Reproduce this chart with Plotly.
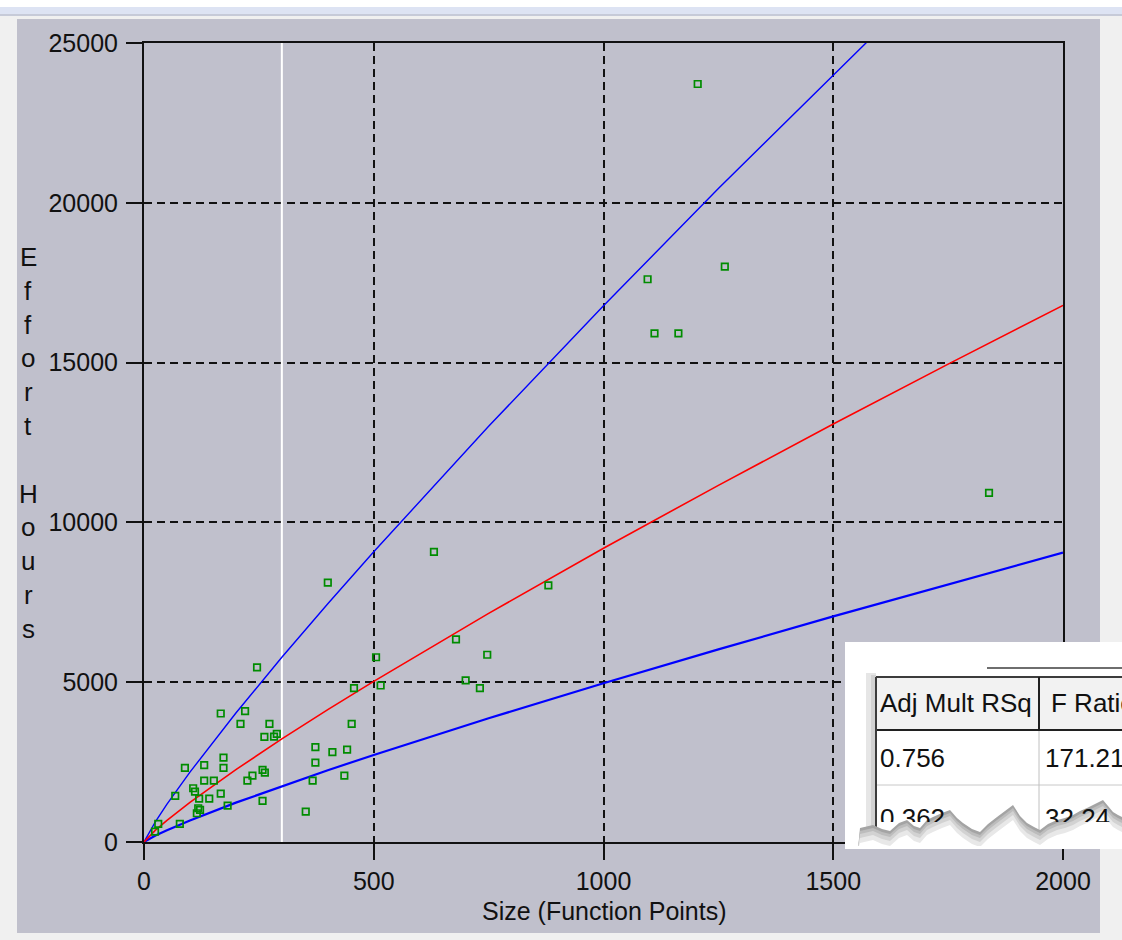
import plotly.graph_objects as go

# ---------------- data ----------------
size_fp = [24, 31, 68, 78, 89, 107, 111, 115, 118, 120, 122, 131, 131, 142, 152,
           167, 167, 173, 173, 182, 210, 220, 225, 236, 246, 258, 258, 262, 263,
           273, 283, 289, 352, 367, 373, 373, 400, 410, 436, 442, 452, 457, 505,
           515, 631, 679, 700, 731, 747, 880, 1096, 1111, 1163, 1205, 1264, 1839]
effort_hours = [323, 564, 1441, 564, 2318, 1682, 1577, 899, 1056, 1358, 1003, 2403,
                1921, 1358, 1921, 4020, 1514, 2641, 2318, 1137, 3697, 4094, 1921,
                2077, 5461, 2256, 1285, 3290, 2172, 3697, 3299, 3383, 949, 1921,
                2967, 2485, 8115, 2810, 2077, 2892, 3697, 4815, 5780, 4897, 9077,
                6339, 5055, 4815, 5859, 8031, 17608, 15916, 15916, 23717, 18005, 10925]

curve_x = [0, 25, 50, 100, 200, 300, 400, 500, 750, 1000, 1250, 1500, 1750, 2000]
fit_effort = [0, 371, 678, 1239, 2264, 3225, 4140, 5026, 7155, 9191, 11160, 13077, 14953, 16791]
upper_effort = [0, 641, 1184, 2186, 4036, 5781, 7456, 9082, 13007, 16779, 20444, 24020, 27536, 30993]
lower_effort = [0, 203, 371, 676, 1232, 1750, 2245, 2724, 3871, 4968, 6027, 7059, 8064, 9054]

threshold_size = 300
x_range = [0, 2000]
y_range = [0, 25000]
x_ticks = [0, 500, 1000, 1500, 2000]
y_ticks = [0, 5000, 10000, 15000, 20000, 25000]

x_title = "Size (Function Points)"
y_title = "Effort Hours"

table_header = ["Adj Mult RSq", "F Ratio"]
table_row1 = ["0.756", "171.21"]
table_row2 = ["0.362", "32.24"]

# ---------------- layout geometry ----------------
W, H = 1122, 940
L, R, T, B = 144, 59, 43, 98
PW, PH = W - L - R, H - T - B

def px(x):
    return (x - L) / PW

def py(y):
    return (H - B - y) / PH

FONT = "Liberation Sans, Arial, sans-serif"
INK = "#111111"
PANEL = "#c0c0cc"

fig = go.Figure()

fig.add_trace(go.Scatter(x=[threshold_size, threshold_size], y=y_range, mode="lines",
                         line=dict(color="white", width=2), hoverinfo="skip"))
fig.add_trace(go.Scatter(x=curve_x, y=upper_effort, mode="lines",
                         line=dict(color="#0000ff", width=1.4)))
fig.add_trace(go.Scatter(x=curve_x, y=lower_effort, mode="lines",
                         line=dict(color="#0000ff", width=2.2)))
fig.add_trace(go.Scatter(x=curve_x, y=fit_effort, mode="lines",
                         line=dict(color="#ff0000", width=1.6)))
fig.add_trace(go.Scatter(x=size_fp, y=effort_hours, mode="markers",
                         marker=dict(symbol="square-open", size=6.5, color="#008c00",
                                     line=dict(width=1.7, color="#008c00"))))

axis_common = dict(showline=True, linecolor=INK, linewidth=2, mirror=True,
                   ticks="outside", ticklen=16, tickwidth=2, tickcolor=INK,
                   showgrid=True, gridcolor=INK, gridwidth=2, griddash="8px,5px",
                   zeroline=False, tickformat="d",
                   tickfont=dict(family=FONT, size=25, color=INK))

fig.update_xaxes(range=x_range, tickvals=x_ticks, **axis_common)
fig.update_yaxes(range=y_range, tickvals=y_ticks, ticklabelstandoff=3, **axis_common)

shapes = []
def rect(x0, y0, x1, y1, fill, layer="below", opacity=1.0):
    shapes.append(dict(type="rect", xref="paper", yref="paper",
                       x0=px(x0), x1=px(x1), y0=py(y0), y1=py(y1),
                       fillcolor=fill, line=dict(width=0), layer=layer, opacity=opacity))

def hline(x0, x1, y, color, width, layer="above"):
    shapes.append(dict(type="line", xref="paper", yref="paper",
                       x0=px(x0), x1=px(x1), y0=py(y), y1=py(y),
                       line=dict(color=color, width=width), layer=layer))

def vline(x, y0, y1, color, width, layer="above"):
    shapes.append(dict(type="line", xref="paper", yref="paper",
                       x0=px(x), x1=px(x), y0=py(y0), y1=py(y1),
                       line=dict(color=color, width=width), layer=layer))

# window chrome
rect(0, 0, W, 7, "#ffffff")
rect(0, 7, W, 14, "#dde3f3")
rect(0, 14, W, 16, "#c6cad8")
rect(17, 19, 1100, 933, PANEL)

# inset (pasted table)
rect(845, 642, W, 848, "#ffffff", layer="above")
hline(987, W, 668, "#6e6e6e", 2)
rect(866, 673, 876, 832, "#e6e6e6", layer="above")
rect(871, 675, 876, 832, "#d2d2d2", layer="above")
rect(876, 677, W, 730, "#f2f2f2", layer="above")
hline(876, 1039, 785, "#c8c8c8", 1)
hline(1039, W, 785, "#c8c8c8", 1)
vline(1039, 730, 840, "#c0c0c0", 1)
hline(876, W, 677, "#3c3c3c", 2)
hline(876, W, 730, "#202020", 2)
vline(876, 677, 840, "#3c3c3c", 2)
vline(1039, 677, 730, "#202020", 2)

jag = [(860, 828), (873, 825), (882, 829), (890, 831), (899, 823), (907, 820), (914, 826),
       (920, 828), (927, 820), (933, 817), (942, 813), (950, 810), (957, 818), (963, 823),
       (972, 829), (980, 832), (988, 824), (997, 817), (1005, 811), (1013, 805), (1020, 816),
       (1027, 823), (1034, 827), (1040, 830), (1048, 824), (1057, 820), (1065, 818),
       (1073, 815), (1080, 811), (1087, 808), (1095, 804), (1103, 800), (1108, 806),
       (1113, 812), (1118, 815), (1122, 817)]

def torn(dy, fill):
    pts = [(x, y + dy) for x, y in jag] + [(W, 849), (858, 849)]
    path = "M " + " L ".join(f"{px(x)},{py(y)}" for x, y in pts) + " Z"
    shapes.append(dict(type="path", xref="paper", yref="paper", path=path,
                       fillcolor=fill, line=dict(width=0), layer="above"))

torn(0, "#a4a4a4")
torn(3, "#bcbcbc")
torn(6, "#d2d2d2")
torn(10, "#e8e8e8")
torn(15, "#ffffff")
rect(845, 846, W, 849, "#ffffff", layer="above")

annotations = []
# x title
annotations.append(dict(x=px(604), y=py(911), xref="paper", yref="paper", text=x_title,
                        showarrow=False, xanchor="center", yanchor="middle",
                        font=dict(family=FONT, size=25, color=INK)))
# y title (stacked letters)
letters = list(y_title.replace(" ", "\n"))
pitch = 33.8
for i, ch in enumerate(letters):
    if ch == "\n":
        continue
    annotations.append(dict(x=px(28), y=py(257 + i * pitch), xref="paper", yref="paper",
                            text=ch, showarrow=False, xanchor="center", yanchor="middle",
                            font=dict(family=FONT, size=26, color=INK)))

cell_font = dict(family=FONT, size=26, color=INK)
col_x = [878, 1043]
for j, t in enumerate(table_header):
    annotations.append(dict(x=px(col_x[j] + (6 if j == 1 else 0)), y=py(703), xref="paper", yref="paper",
                            text=t, showarrow=False, xanchor="left", yanchor="middle", font=cell_font))
for j, t in enumerate(table_row1):
    annotations.append(dict(x=px(col_x[j]), y=py(758), xref="paper", yref="paper",
                            text=t, showarrow=False, xanchor="left", yanchor="middle", font=cell_font))
for j, t in enumerate(table_row2):
    annotations.append(dict(x=px(col_x[j]), y=py(801), xref="paper", yref="paper",
                            text=t, showarrow=False, xanchor="left", yanchor="top",
                            valign="top", height=19, width=110, align="left", font=cell_font))

fig.update_layout(width=W, height=H, margin=dict(l=L, r=R, t=T, b=B),
                  paper_bgcolor="#f0f0f0", plot_bgcolor=PANEL, showlegend=False,
                  shapes=shapes, annotations=annotations)

fig.write_html("out.html", config={"displayModeBar": False},
               post_script="document.body.style.margin='0';")
